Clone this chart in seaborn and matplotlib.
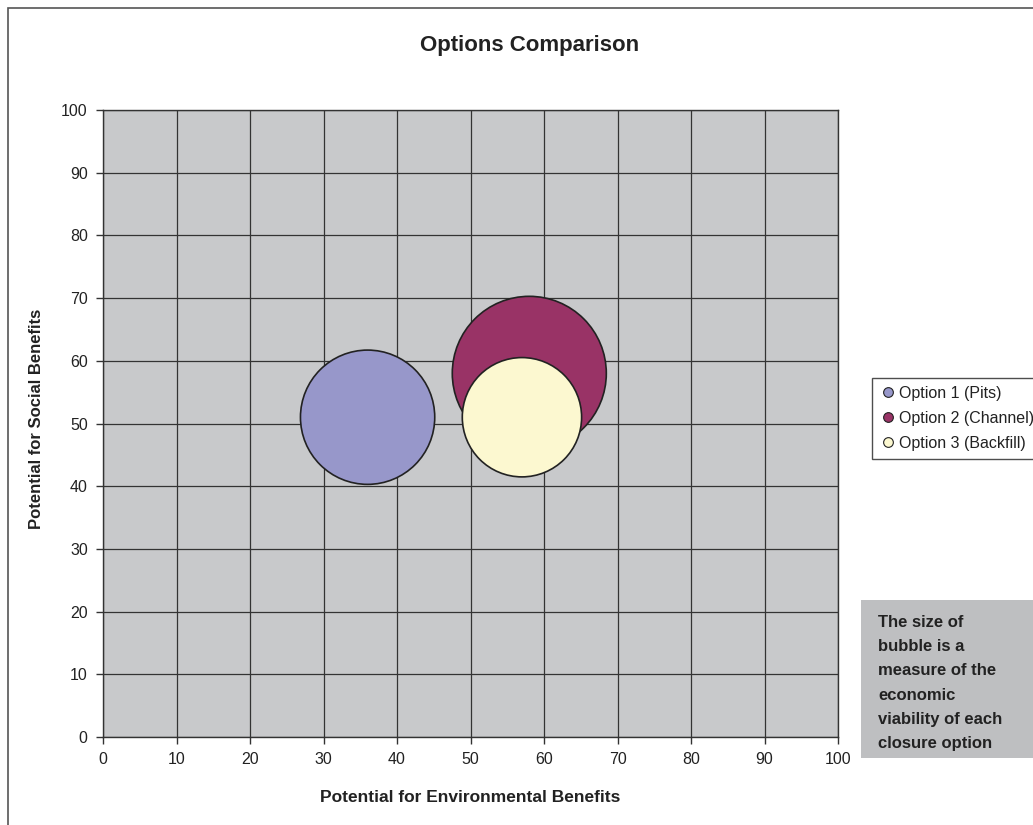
import matplotlib
matplotlib.use("Agg")
import matplotlib.pyplot as plt
from matplotlib.lines import Line2D
from matplotlib.patches import Rectangle
import seaborn as sns
import pandas as pd

# Closure options: environmental score, social score, economic viability (bubble size)
options = ["Option 1 (Pits)", "Option 2 (Channel)", "Option 3 (Backfill)"]
env_benefits = [36, 58, 57]
social_benefits = [51, 58, 51]
viability = [76, 100, 60]
colors = ["#9797CA", "#993366", "#FCF8D0"]

sns.set_theme(style="white")
plt.rcParams["font.family"] = ["Liberation Sans", "DejaVu Sans"]

df = pd.DataFrame({
    "option": options,
    "env": env_benefits,
    "social": social_benefits,
    "viability": viability,
})

W, H = 1033, 825
fig = plt.figure(figsize=(W / 100, H / 100), dpi=100)
fig.patch.set_facecolor("white")

# outer chart frame
fig.patches.append(Rectangle((8 / W, -0.05), 1.1, 1 - 8 / H + 0.05,
                             transform=fig.transFigure, fill=False,
                             edgecolor="#555555", linewidth=1.2))

ax = fig.add_axes([103 / W, 1 - 737 / H, 735 / W, 627 / H])
ax.set_facecolor("#C8C9CB")
ax.set_axisbelow(True)

sns.scatterplot(data=df, x="env", y="social", hue="option", size="viability",
                sizes=(0, 12300), size_norm=(0, 100), palette=colors,
                hue_order=options, edgecolor="#222222", linewidth=1.2,
                alpha=1, legend=False, ax=ax, zorder=3)

ax.set_xlim(0, 100)
ax.set_ylim(0, 100)
ax.set_xticks(range(0, 101, 10))
ax.set_yticks(range(0, 101, 10))
ax.grid(True, color="#333333", linewidth=0.9)
ax.tick_params(axis="both", which="major", direction="out", length=5,
               width=1, color="#333333", labelsize=11.5, labelcolor="#222222",
               bottom=True, left=True, pad=6)
for s in ax.spines.values():
    s.set_color("#333333")
    s.set_linewidth(1)

ax.set_xlabel("Potential for Environmental Benefits", fontsize=12.5,
              fontweight="bold", color="#222222", labelpad=16)
ax.set_ylabel("Potential for Social Benefits", fontsize=12,
              fontweight="bold", color="#222222")
ax.yaxis.set_label_coords(-0.080, 0.507)

fig.text(530 / W, 1 - 45 / H, "Options Comparison", ha="center", va="center",
         fontsize=16, fontweight="bold", color="#222222")

handles = [Line2D([0], [0], marker="o", linestyle="none", markersize=7,
                  markerfacecolor=c, markeredgecolor="#222222",
                  markeredgewidth=0.8) for c in colors]
leg = fig.legend(handles, options, loc="upper left",
                 bbox_to_anchor=(872 / W, 1 - 378 / H), frameon=True,
                 fontsize=11.5, handletextpad=0.2, handlelength=1.0,
                 borderpad=0.5, labelspacing=0.62, fancybox=False,
                 borderaxespad=0)
leg.get_frame().set_edgecolor("#222222")
leg.get_frame().set_linewidth(1)
for t in leg.get_texts():
    t.set_color("#222222")

# note box on the right
fig.patches.append(Rectangle((861 / W, 1 - 758 / H), 200 / W, 158 / H,
                             transform=fig.transFigure, facecolor="#BEBFC1",
                             edgecolor="none"))
fig.text(878 / W, 1 - 615 / H,
         "The size of\nbubble is a\nmeasure of the\neconomic\nviability of each\nclosure option",
         ha="left", va="top", fontsize=12, fontweight="bold", color="#222222",
         linespacing=1.77)

fig.savefig("out.png", dpi=100)
